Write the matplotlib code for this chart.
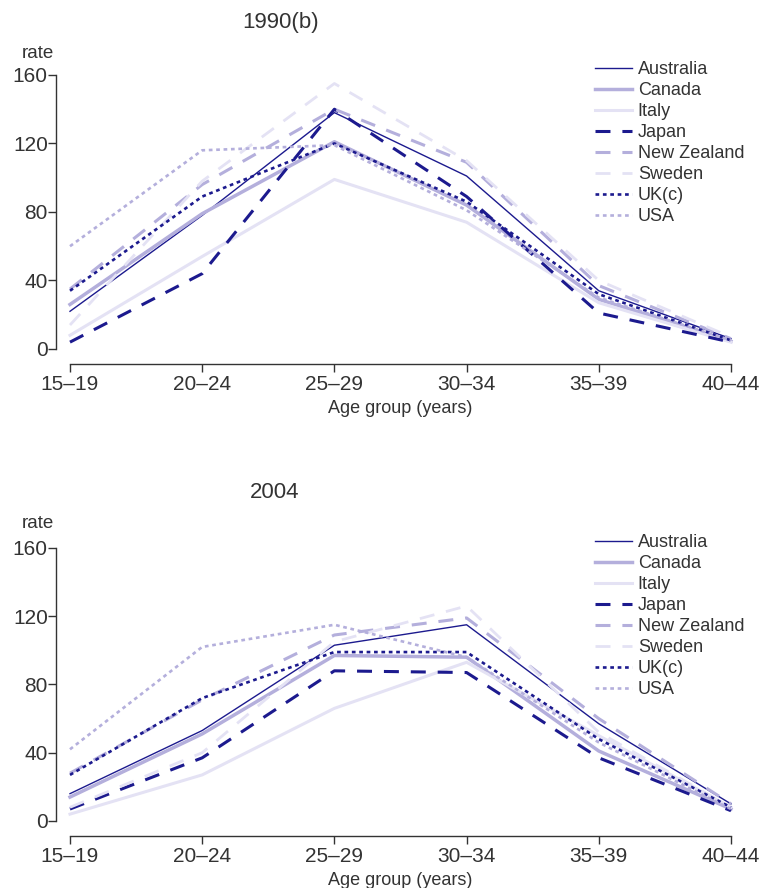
import matplotlib
matplotlib.use("Agg")
from matplotlib import pyplot as plt

#Age groups on the x axis
ages = ["15–19", "20–24", "25–29", "30–34", "35–39", "40–44"]
countries = ["Australia", "Canada", "Italy", "Japan", "New Zealand", "Sweden", "UK(c)", "USA"]

#Rates for 1990
aus_1990 = [22, 78, 138, 101, 34, 6]
can_1990 = [26, 79, 121, 84, 29, 4.5]
ita_1990 = [8, 54, 99, 74, 27, 4]
jpn_1990 = [4, 44, 140, 89, 21, 4]
nzl_1990 = [35, 96, 140, 109, 37, 6]
swe_1990 = [14, 98, 155, 110, 40, 7]
uk_1990 = [34, 89, 120, 86, 32, 5]
usa_1990 = [60, 116, 119, 81, 30, 5]

#Rates for 2004
aus_2004 = [16, 53, 103, 115, 57, 10]
can_2004 = [14, 51, 97, 96, 41, 7]
ita_2004 = [4, 27, 66, 93, 50, 8]
jpn_2004 = [7, 37, 88, 87, 37, 6]
nzl_2004 = [28, 71, 109, 119, 60, 10]
swe_2004 = [8, 40, 105, 126, 52, 8]
uk_2004 = [27, 72, 99, 99, 48, 8]
usa_2004 = [42, 102, 115, 96, 46, 7]

data_1990 = [aus_1990, can_1990, ita_1990, jpn_1990, nzl_1990, swe_1990, uk_1990, usa_1990]
data_2004 = [aus_2004, can_2004, ita_2004, jpn_2004, nzl_2004, swe_2004, uk_2004, usa_2004]

navy = "#1c1a8e"
mid = "#b4afdc"
light = "#e4e2f4"
grey = "#333333"

#colour, width, dashes (None = solid)
styles = [
    (navy, 1.0, None),
    (mid, 2.5, None),
    (light, 2.2, None),
    (navy, 2.2, (4.9, 3.9)),
    (mid, 2.2, (4.9, 3.9)),
    (light, 2.0, (5.4, 4.3)),
    (navy, 1.9, (1.4, 1.4)),
    (mid, 1.9, (1.4, 1.4)),
]

plt.rcParams["font.family"] = ["Liberation Sans", "DejaVu Sans"]

fig = plt.figure(figsize=(7.6, 8.88), dpi=100)
ax1 = fig.add_axes([0.0921, 0.6070, 0.8697, 0.3086])
ax2 = fig.add_axes([0.0921, 0.0755, 0.8697, 0.3074])

def draw(ax, series, title, title_x, title_y):
    x = list(range(len(ages)))
    for name, vals, (c, lw, d) in zip(countries, series, styles):
        line, = ax.plot(x, vals, color=c, lw=lw, label=name, clip_on=False)
        if d is not None:
            line.set_dashes(d)
    ax.set_xlim(0, len(ages) - 1)
    ax.set_ylim(0, 160)
    ax.set_yticks([0, 40, 80, 120, 160])
    ax.set_xticks(x)
    ax.set_xticklabels(ages)
    for s in ["top", "right"]:
        ax.spines[s].set_visible(False)
    ax.spines["left"].set_position(("outward", 10))
    ax.spines["bottom"].set_position(("outward", 11))
    for s in ["left", "bottom"]:
        ax.spines[s].set_color(grey)
        ax.spines[s].set_linewidth(1.0)
    ax.tick_params(axis="both", colors=grey, labelsize=15, length=5.5, width=1.0)
    ax.tick_params(axis="y", pad=0.5)
    ax.tick_params(axis="x", pad=2)
    ax.text(title_x, title_y, title, transform=ax.transAxes, ha="center", va="center",
            fontsize=16, color=grey)
    ax.text(-0.048, title_y - 0.115, "rate", transform=ax.transAxes, ha="center",
            va="center", fontsize=13.5, color=grey)
    ax.text(0.5, -0.217, "Age group (years)", transform=ax.transAxes, ha="center",
            va="center", fontsize=13, color=grey)
    ax.legend(loc="upper left", bbox_to_anchor=(0.794, 1.05), frameon=False,
              fontsize=13, handlelength=2.05, handletextpad=0.33, labelspacing=0.22,
              borderpad=0, borderaxespad=0, labelcolor=grey)

draw(ax1, data_1990, "1990(b)", 0.318, 1.193)
draw(ax2, data_2004, "2004", 0.31, 1.205)

fig.savefig("out.png", dpi=100)
